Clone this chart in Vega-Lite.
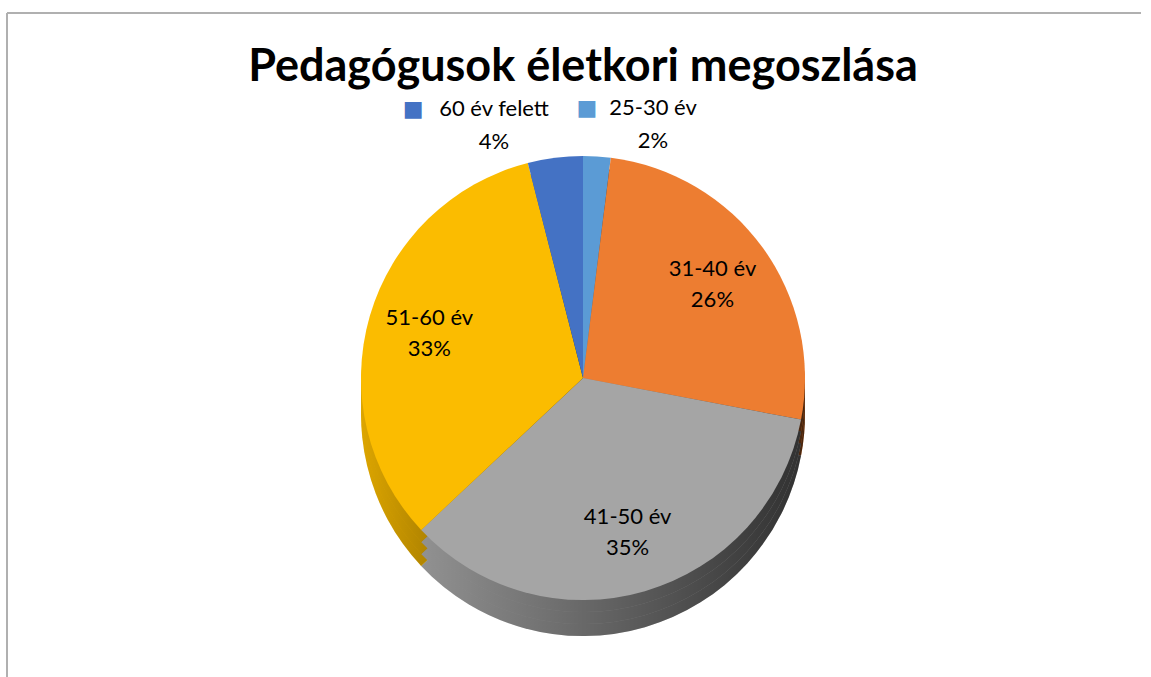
{
  "$schema": "https://vega.github.io/schema/vega-lite/v6.json",
  "autosize": {"type": "none"},
  "padding": {"left": 7, "top": 13, "right": 0, "bottom": 0},
  "width": 1144,
  "height": 664,
  "background": "white",
  "view": {"stroke": "#b0b0b0", "strokeWidth": 2, "fill": "white", "strokeDash": [1134, 1818, 664, 0]},
  "title": {
    "text": "Pedagógusok életkori megoszlása",
    "font": "Lato",
    "fontSize": 45,
    "fontWeight": "bold",
    "color": "#000000",
    "anchor": "middle",
    "frame": "group",
    "offset": -113,
    "dx": 4,
    "baseline": "alphabetic"
  },
  "data": {
    "values": [
      {"kategoria": "25-30 év", "arany": 0.02},
      {"kategoria": "31-40 év", "arany": 0.26},
      {"kategoria": "41-50 év", "arany": 0.35},
      {"kategoria": "51-60 év", "arany": 0.33},
      {"kategoria": "60 év felett", "arany": 0.04}
    ]
  },
  "encoding": {
    "theta": {"field": "arany", "type": "quantitative", "stack": true},
    "order": {"field": "kategoria", "type": "ordinal", "sort": "ascending"},
    "color": {
      "field": "kategoria",
      "type": "nominal",
      "legend": null,
      "scale": {
        "domain": ["25-30 év", "31-40 év", "41-50 év", "51-60 év", "60 év felett"],
        "range": ["#5b9bd5", "#ed7d31", "#a5a5a5", "#fbbc00", "#4472c4"]
      }
    }
  },
  "layer": [
    {"mark": {"type": "arc", "outerRadius": 222, "xOffset": 4, "yOffset": 69}},
    {"mark": {"type": "arc", "outerRadius": 222, "xOffset": 4, "yOffset": 69, "fill": {"gradient": "linear", "x1": 0, "y1": 0, "x2": 1, "y2": 0, "stops": [{"offset": 0, "color": "rgba(0,0,0,0.12)"}, {"offset": 1, "color": "rgba(0,0,0,0.7)"}]}}},
    {"mark": {"type": "arc", "outerRadius": 222, "xOffset": 4, "yOffset": 57}},
    {"mark": {"type": "arc", "outerRadius": 222, "xOffset": 4, "yOffset": 57, "fill": {"gradient": "linear", "x1": 0, "y1": 0, "x2": 1, "y2": 0, "stops": [{"offset": 0, "color": "rgba(0,0,0,0.12)"}, {"offset": 1, "color": "rgba(0,0,0,0.7)"}]}}},
    {"mark": {"type": "arc", "outerRadius": 222, "xOffset": 4, "yOffset": 45}},
    {"mark": {"type": "arc", "outerRadius": 222, "xOffset": 4, "yOffset": 45, "fill": {"gradient": "linear", "x1": 0, "y1": 0, "x2": 1, "y2": 0, "stops": [{"offset": 0, "color": "rgba(0,0,0,0.12)"}, {"offset": 1, "color": "rgba(0,0,0,0.7)"}]}}},
    {"mark": {"type": "arc", "outerRadius": 222, "xOffset": 4, "yOffset": 33}},
    {
      "mark": {"type": "text", "radius": 160, "xOffset": 4, "yOffset": 33, "dy": -15, "font": "Lato", "fontSize": 22},
      "encoding": {"text": {"condition": {"test": "datum.arany >= 0.1", "field": "kategoria"}, "value": ""}, "color": {"value": "#000000"}}
    },
    {
      "mark": {"type": "text", "radius": 160, "xOffset": 4, "yOffset": 33, "dy": 16, "font": "Lato", "fontSize": 22},
      "encoding": {"text": {"condition": {"test": "datum.arany >= 0.1", "field": "arany", "format": ".0%"}, "value": ""}, "color": {"value": "#000000"}}
    },
    {
      "mark": {"type": "text", "radius": 255, "xOffset": 4, "yOffset": 33, "dx": -57, "dy": -16, "font": "Lato", "fontSize": 22},
      "encoding": {"text": {"condition": {"test": "datum.kategoria === '60 év felett'", "field": "kategoria"}, "value": ""}, "color": {"value": "#000000"}}
    },
    {
      "mark": {"type": "text", "radius": 255, "xOffset": 4, "yOffset": 33, "dx": -57, "dy": 17, "font": "Lato", "fontSize": 22},
      "encoding": {"text": {"condition": {"test": "datum.kategoria === '60 év felett'", "field": "arany", "format": ".0%"}, "value": ""}, "color": {"value": "#000000"}}
    },
    {
      "mark": {"type": "text", "radius": 255, "xOffset": 4, "yOffset": 33, "dx": -138, "dy": -16, "font": "DejaVu Sans", "fontSize": 22},
      "encoding": {"text": {"condition": {"test": "datum.kategoria === '60 év felett'", "value": "■"}, "value": ""}}
    },
    {
      "mark": {"type": "text", "radius": 255, "xOffset": 4, "yOffset": 33, "dx": 54, "dy": -16, "font": "Lato", "fontSize": 22},
      "encoding": {"text": {"condition": {"test": "datum.kategoria === '25-30 év'", "field": "kategoria"}, "value": ""}, "color": {"value": "#000000"}}
    },
    {
      "mark": {"type": "text", "radius": 255, "xOffset": 4, "yOffset": 33, "dx": 54, "dy": 17, "font": "Lato", "fontSize": 22},
      "encoding": {"text": {"condition": {"test": "datum.kategoria === '25-30 év'", "field": "arany", "format": ".0%"}, "value": ""}, "color": {"value": "#000000"}}
    },
    {
      "mark": {"type": "text", "radius": 255, "xOffset": 4, "yOffset": 33, "dx": -12, "dy": -16, "font": "DejaVu Sans", "fontSize": 22},
      "encoding": {"text": {"condition": {"test": "datum.kategoria === '25-30 év'", "value": "■"}, "value": ""}}
    }
  ]
}
